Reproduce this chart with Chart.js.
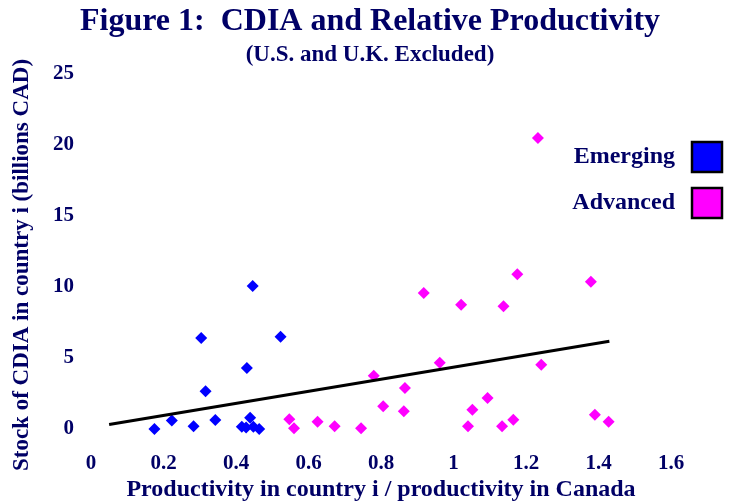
<!DOCTYPE html>
<html>
<head>
<meta charset="utf-8">
<script src="https://cdn.jsdelivr.net/npm/chart.js@4.4.0/dist/chart.umd.min.js"></script>
<style>
  html, body { margin: 0; padding: 0; background: #fff; }
</style>
</head>
<body>
<canvas id="chart" width="731" height="504"></canvas>
<script>
// values
const emergingX = [0.175, 0.223, 0.283, 0.304, 0.316, 0.343, 0.446, 0.430, 0.523, 0.439, 0.416, 0.428, 0.448, 0.464];
const emergingY = [0.0, 0.6, 0.2, 6.4, 2.65, 0.63, 10.07, 4.3, 6.5, 0.8, 0.16, 0.1, 0.16, 0.0];

const advancedX = [1.233, 1.176, 1.379, 0.918, 1.021, 1.138, 0.962, 1.242, 0.780, 0.866, 0.806, 0.863,
                   1.094, 1.052, 0.547, 0.560, 0.625, 0.672, 0.745, 1.040, 1.134, 1.165, 1.390, 1.428];
const advancedY = [20.5, 10.9, 10.37, 9.58, 8.75, 8.64, 4.67, 4.53, 3.75, 2.89, 1.6, 1.25,
                   2.18, 1.36, 0.68, 0.05, 0.51, 0.19, 0.05, 0.19, 0.19, 0.65, 1.0, 0.51];

const trendX = [0.05, 1.43];
const trendY = [0.31, 6.18];

const xTickLabels = ['0', '0.2', '0.4', '0.6', '0.8', '1', '1.2', '1.4', '1.6'];
const yTickLabels = ['0', '5', '10', '15', '20', '25'];

const titleText = 'Figure 1:  CDIA and Relative Productivity';
const subtitleText = '(U.S. and U.K. Excluded)';
const yTitleText = 'Stock of CDIA in country i (billions CAD)';
const legendLabels = ['Emerging', 'Advanced'];
const legendColors = ['#0000ff', '#ff00ff'];

const navy = '#000066';
const serif = "'Liberation Serif', 'Times New Roman', serif";

function toPoints(xs, ys) {
  return xs.map((x, i) => ({ x: x, y: ys[i] }));
}

// title, subtitle, y title and the boxed legend on the right
const headerAndLegend = {
  id: 'headerAndLegend',
  afterDraw(chart) {
    const ctx = chart.ctx;
    ctx.save();
    ctx.fillStyle = navy;
    ctx.textAlign = 'center';
    ctx.textBaseline = 'middle';
    ctx.font = 'bold 32px ' + serif;
    ctx.fillText(titleText, 370, 22);
    ctx.font = 'bold 23px ' + serif;
    ctx.fillText(subtitleText, 370, 55);

    ctx.save();
    ctx.translate(22, 265);
    ctx.rotate(-Math.PI / 2);
    ctx.font = 'bold 23px ' + serif;
    ctx.fillText(yTitleText, 0, 0);
    ctx.restore();

    ctx.font = 'bold 24px ' + serif;
    ctx.textAlign = 'right';
    legendLabels.forEach((label, i) => {
      const cy = 157 + i * 46;
      ctx.fillStyle = navy;
      ctx.fillText(label, 675, cy);
      ctx.fillStyle = legendColors[i];
      ctx.fillRect(692, cy - 15, 30, 30);
      ctx.lineWidth = 2.5;
      ctx.strokeStyle = '#000';
      ctx.strokeRect(692, cy - 15, 30, 30);
    });
    ctx.restore();
  }
};

new Chart(document.getElementById('chart'), {
  type: 'scatter',
  data: {
    datasets: [
      {
        type: 'line',
        label: 'Trend',
        data: toPoints(trendX, trendY),
        borderColor: '#000',
        borderWidth: 3,
        pointRadius: 0,
        fill: false,
        clip: false
      },
      {
        label: legendLabels[0],
        data: toPoints(emergingX, emergingY),
        pointStyle: 'rectRot',
        pointRadius: 6,
        backgroundColor: legendColors[0],
        borderWidth: 0,
        clip: false
      },
      {
        label: legendLabels[1],
        data: toPoints(advancedX, advancedY),
        pointStyle: 'rectRot',
        pointRadius: 6,
        backgroundColor: legendColors[1],
        borderWidth: 0,
        clip: false
      }
    ]
  },
  options: {
    responsive: false,
    animation: false,
    layout: { padding: { top: 74, right: 60, left: 0, bottom: 0 } },
    plugins: {
      legend: { display: false },
      tooltip: { enabled: false }
    },
    scales: {
      x: {
        type: 'linear',
        min: 0,
        max: 1.6,
        grid: { display: false, drawTicks: false },
        border: { display: false },
        ticks: {
          stepSize: 0.2,
          padding: 22,
          color: navy,
          font: { family: serif, size: 21, weight: 'bold' },
          callback: (v, i) => xTickLabels[i]
        },
        title: {
          display: true,
          text: 'Productivity in country i / productivity in Canada',
          color: navy,
          font: { family: serif, size: 24, weight: 'bold' },
          padding: { top: 0, bottom: 0 }
        },
        afterFit: (scale) => { scale.height = 75; }
      },
      y: {
        min: 0,
        max: 25,
        grid: { display: false, drawTicks: false },
        border: { display: false },
        ticks: {
          stepSize: 5,
          padding: 17,
          color: navy,
          font: { family: serif, size: 21, weight: 'bold' },
          callback: (v, i) => yTickLabels[i]
        },
        afterFit: (scale) => { scale.width = 91; }
      }
    }
  },
  plugins: [headerAndLegend]
});
</script>
</body>
</html>
